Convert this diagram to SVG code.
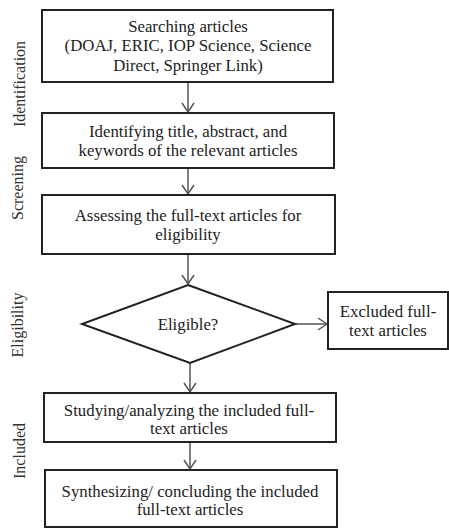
<svg xmlns="http://www.w3.org/2000/svg" width="449" height="529" viewBox="0 0 449 529">
<style>
.box{fill:#fff;stroke:#222;stroke-width:2}
.t{font-family:"Liberation Serif","Times New Roman",serif;font-size:16.8px;fill:#222;text-anchor:middle}
.lbl{font-family:"Liberation Serif","Times New Roman",serif;font-size:16px;fill:#333;text-anchor:middle}
.c{fill:none;stroke:#555;stroke-width:1.5}
</style>
<defs>
<marker id="arr" markerWidth="14" markerHeight="14" refX="12" refY="7" orient="auto" markerUnits="userSpaceOnUse">
<path d="M3,1 L12,7 L3,13" fill="none" stroke="#555" stroke-width="1.5"/>
</marker>
</defs>
<rect width="449" height="529" fill="#fff"/>
<g id="stage-labels">
<text class="lbl" transform="translate(25,84) rotate(-90)">Identification</text>
<text class="lbl" transform="translate(23,188) rotate(-90)">Screening</text>
<text class="lbl" transform="translate(23,325) rotate(-90)">Eligibility</text>
<text class="lbl" transform="translate(25,451) rotate(-90)">Included</text>
</g>
<g id="connectors">
<line class="c" x1="188" y1="83" x2="188" y2="112" marker-end="url(#arr)"/>
<line class="c" x1="188" y1="169" x2="188" y2="194" marker-end="url(#arr)"/>
<line class="c" x1="188" y1="255" x2="188" y2="284" marker-end="url(#arr)"/>
<line class="c" x1="190" y1="363" x2="190" y2="392" marker-end="url(#arr)"/>
<line class="c" x1="190" y1="443" x2="190" y2="469" marker-end="url(#arr)"/>
<line class="c" x1="295" y1="324" x2="327" y2="324" marker-end="url(#arr)"/>
</g>
<g id="n1">
<rect class="box" x="42" y="10" width="291" height="72"/>
<text class="t" x="188" y="32">Searching articles</text>
<text class="t" x="188" y="51">(DOAJ, ERIC, IOP Science, Science</text>
<text class="t" x="188" y="71">Direct, Springer Link)</text>
</g>
<g id="n2">
<rect class="box" x="42" y="113" width="292" height="55"/>
<text class="t" x="188" y="137">Identifying title, abstract, and</text>
<text class="t" x="188" y="156">keywords of the relevant articles</text>
</g>
<g id="n3">
<rect class="box" x="42" y="195" width="293" height="59"/>
<text class="t" x="188" y="221">Assessing the full-text articles for</text>
<text class="t" x="188" y="240">eligibility</text>
</g>
<g id="n4">
<polygon class="box" points="188,285 295,324 190,363 82,324"/>
<text class="t" x="188" y="330">Eligible?</text>
</g>
<g id="n5">
<rect class="box" x="328" y="292" width="120" height="57"/>
<text class="t" x="388" y="317">Excluded full-</text>
<text class="t" x="388" y="336">text articles</text>
</g>
<g id="n6">
<rect class="box" x="44" y="393" width="292" height="49"/>
<text class="t" x="189" y="416">Studying/analyzing the included full-</text>
<text class="t" x="189" y="434">text articles</text>
</g>
<g id="n7">
<rect class="box" x="45" y="470" width="292" height="57"/>
<text class="t" x="190" y="497">Synthesizing/ concluding the included</text>
<text class="t" x="190" y="515">full-text articles</text>
</g>
</svg>
